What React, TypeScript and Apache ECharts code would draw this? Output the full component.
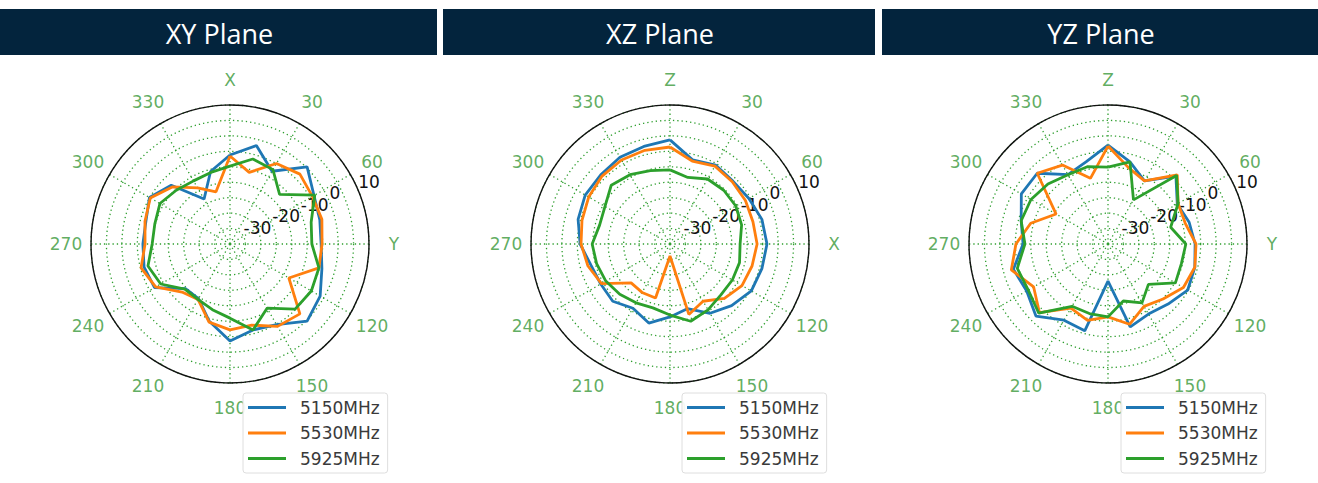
import React, { useEffect, useRef } from 'react';
import * as echarts from 'echarts';

// Angles (degrees, clockwise from the top axis)
const angles = [0, 15, 30, 45, 60, 75, 90, 105, 120, 135, 150, 165, 180, 195, 210, 225, 240, 255, 270, 285, 300, 315, 330, 345];

const seriesNames = ['5150MHz', '5530MHz', '5925MHz'];
const seriesColors = ['#1f77b4', '#ff7f0e', '#2ca02c'];

const planeTitles = ['XY Plane', 'XZ Plane', 'YZ Plane'];
// angular tick labels (0° and 90° carry the axis names)
const angleTickValues = [0, 30, 60, 90, 120, 150, 180, 210, 240, 270, 300, 330];
const angleTickLabelsXY = ['X', '30', '60', 'Y', '120', '150', '180', '210', '240', '270', '300', '330'];
const angleTickLabelsXZ = ['Z', '30', '60', 'X', '120', '150', '180', '210', '240', '270', '300', '330'];
const angleTickLabelsYZ = ['Z', '30', '60', 'Y', '120', '150', '180', '210', '240', '270', '300', '330'];
const angleTickLabels = [angleTickLabelsXY, angleTickLabelsXZ, angleTickLabelsYZ];

const radialTicks = [-30, -20, -10, 0, 10];
const radiusMin = -35;
const radiusMax = 10;

// XY plane (dB)
const xy5150 = [-6.2, -2.0, -7.8, 0.3, -3.6, -4.9, -5.5, -4.2, -1.3, 0.3, -4.9, -6.2, -3.6, -9.1, -14.6, -14.6, -6.8, -6.2, -6.8, -6.8, -4.9, -8.1, -18.2, -10.7];
const xy5530 = [-6.5, -11.0, -4.9, -3.0, -4.2, -4.2, -5.2, -5.2, -13.0, -3.0, -4.2, -7.8, -7.2, -8.8, -14.3, -13.0, -7.2, -5.2, -7.5, -6.5, -5.2, -8.8, -14.0, -17.5];
const xy5925 = [-9.8, -6.5, -7.2, -12.3, -3.3, -7.8, -8.5, -5.2, -4.6, -5.2, -11.0, -6.2, -11.0, -13.0, -14.3, -14.3, -9.1, -7.5, -9.8, -9.8, -8.8, -10.4, -11.4, -11.0];

// XZ plane (dB)
const xz5150 = [-1.3, -6.8, -5.5, -6.2, -5.5, -4.2, -3.6, -4.2, -4.6, -6.8, -9.1, -13.3, -11.4, -8.5, -11.0, -8.8, -9.1, -8.5, -5.9, -4.2, -3.3, -3.3, -2.6, -2.3];
const xz5530 = [-3.6, -7.2, -5.9, -6.5, -6.8, -7.2, -6.8, -7.5, -8.1, -10.1, -13.6, -11.4, -31.1, -16.9, -16.9, -17.2, -9.4, -7.5, -6.2, -5.5, -4.6, -3.9, -3.6, -3.6];
const xz5925 = [-11.0, -12.7, -10.7, -10.4, -10.4, -11.0, -12.3, -11.7, -11.7, -11.7, -10.4, -9.1, -12.0, -13.6, -13.0, -12.0, -11.0, -10.4, -9.8, -11.4, -10.7, -8.1, -9.1, -10.4];

// YZ plane (dB)
const yz5150 = [-3.0, -7.5, -11.4, -3.9, -9.1, -7.8, -6.8, -5.9, -5.2, -7.5, -8.8, -7.2, -23.0, -5.9, -6.5, -2.0, -4.6, -3.3, -7.5, -5.9, -2.6, -2.6, -9.1, -7.5];
const yz5530 = [-3.3, -9.4, -11.4, -3.3, -8.8, -9.1, -6.5, -5.9, -6.8, -9.8, -11.7, -8.1, -11.4, -9.4, -11.0, -3.6, -7.2, -2.6, -5.2, -9.1, -15.6, -2.6, -5.5, -13.0];
const yz5925 = [-10.1, -7.5, -18.5, -3.6, -8.8, -14.0, -9.8, -10.4, -9.8, -16.5, -13.0, -15.9, -11.4, -11.7, -11.7, -3.3, -5.2, -4.6, -8.1, -5.9, -6.2, -7.5, -9.1, -9.1];

const planeData = [
  [xy5150, xy5530, xy5925],
  [xz5150, xz5530, xz5925],
  [yz5150, yz5530, yz5925],
];

// layout
const centers = [[230, 244], [670, 244], [1108, 244]];
const polarRadius = 139;
const angleLabelRadius = 164;
const headers = [
  { x: 0, w: 437 },
  { x: 443, w: 432 },
  { x: 882, w: 436 },
];
const legendLefts = [243, 682, 1121];

const GRID_GREEN = '#2e9e2e';
const LABEL_GREEN = '#389838';
const FONT = 'DejaVu Sans';

function buildOption() {
  const polar: any[] = [];
  const angleAxis: any[] = [];
  const radiusAxis: any[] = [];
  const series: any[] = [];
  const legend: any[] = [];
  const graphic: any[] = [];

  // 0..2 : data polars (grid, outer circle)
  for (let p = 0; p < 3; p++) {
    polar.push({ center: centers[p], radius: polarRadius });
    angleAxis.push({
      polarIndex: p,
      type: 'value',
      min: 0,
      max: 360,
      interval: 30,
      startAngle: 90,
      clockwise: true,
      axisLine: { show: true, lineStyle: { color: '#111', width: 1.4 } },
      axisTick: { show: false },
      axisLabel: { show: false },
      splitLine: { show: true, lineStyle: { color: GRID_GREEN, width: 1.3, type: [1.3, 3] } },
    });
    radiusAxis.push({
      polarIndex: p,
      type: 'value',
      min: radiusMin,
      max: radiusMax,
      interval: 5,
      axisLine: { show: false },
      axisTick: { show: false },
      axisLabel: { show: false },
      splitLine: { show: true, lineStyle: { color: GRID_GREEN, width: 1.3, type: [1.3, 3] } },
    });
  }

  // 3..5 : radial tick label polars (labels along 22° above horizontal)
  for (let p = 0; p < 3; p++) {
    polar.push({ center: centers[p], radius: polarRadius });
    angleAxis.push({
      polarIndex: 3 + p,
      type: 'value',
      min: 0,
      max: 360,
      startAngle: 22,
      show: false,
    });
    radiusAxis.push({
      polarIndex: 3 + p,
      type: 'value',
      min: radiusMin,
      max: radiusMax,
      interval: 5,
      axisLine: { show: false },
      axisTick: { show: false },
      splitLine: { show: false },
      axisLabel: {
        show: true,
        margin: 2,
        align: 'left',
        verticalAlign: 'bottom',
        color: '#111',
        fontSize: 17,
        fontFamily: FONT,
        formatter: (v: number) => (radialTicks.indexOf(v) >= 0 ? String(v) : ''),
      },
    });
  }

  // 6..8 : angular tick label polars (labels centred on a circle outside the plot)
  for (let p = 0; p < 3; p++) {
    polar.push({ center: centers[p], radius: angleLabelRadius });
    angleAxis.push({
      polarIndex: 6 + p,
      type: 'value',
      min: 0,
      max: 360,
      startAngle: 90,
      clockwise: true,
      show: false,
    });
    radiusAxis.push({
      polarIndex: 6 + p,
      type: 'value',
      min: 0,
      max: 1,
      show: false,
    });
    series.push({
      type: 'scatter',
      coordinateSystem: 'polar',
      polarIndex: 6 + p,
      clip: false,
      silent: true,
      symbolSize: 1,
      itemStyle: { color: 'rgba(0,0,0,0)' },
      data: angleTickValues.map((a, i) => ({ name: angleTickLabels[p][i], value: [1, a] })),
      label: {
        show: true,
        position: 'inside',
        formatter: (d: any) => d.name,
        color: LABEL_GREEN,
        fontSize: 17,
        fontFamily: FONT,
      },
      z: 1,
    });
  }

  for (let p = 0; p < 3; p++) {
    for (let s = 0; s < 3; s++) {
      const vals = planeData[p][s];
      const data = angles.map((a, i) => [vals[i], a]);
      data.push([vals[0], 360]);
      series.push({
        name: seriesNames[s],
        type: 'line',
        coordinateSystem: 'polar',
        polarIndex: p,
        data,
        symbol: 'none',
        smooth: false,
        color: seriesColors[s],
        lineStyle: { color: seriesColors[s], width: 2.8 },
        z: 3 + s,
      });
    }
    legend.push({
      left: legendLefts[p],
      top: 393,
      orient: 'vertical',
      data: seriesNames,
      icon: 'rect',
      itemWidth: 38,
      itemHeight: 3,
      itemGap: 8.5,
      padding: [6, 8, 6, 5],
      backgroundColor: 'rgba(255,255,255,0.92)',
      borderColor: '#dedede',
      borderWidth: 1,
      borderRadius: 3,
      selectedMode: false,
      z: 10,
      textStyle: { fontFamily: FONT, fontSize: 17, color: '#3a3a3a', padding: [0, 0, 0, 9] },
    });
    graphic.push({
      type: 'rect',
      shape: { x: headers[p].x, y: 9, width: headers[p].w, height: 46 },
      style: { fill: '#03243d' },
      silent: true,
    });
    graphic.push({
      type: 'text',
      x: headers[p].x + headers[p].w / 2 + 1,
      y: 33,
      style: {
        text: planeTitles[p],
        fill: '#ffffff',
        font: '27px "Open Sans", "Noto Sans", sans-serif',
        align: 'center',
        verticalAlign: 'middle',
      },
      silent: true,
    });
  }

  return {
    animation: false,
    backgroundColor: '#ffffff',
    textStyle: { fontFamily: FONT },
    polar,
    angleAxis,
    radiusAxis,
    legend,
    graphic,
    series,
  };
}

export default function App() {
  const ref = useRef<HTMLDivElement | null>(null);
  useEffect(() => {
    if (!ref.current) return;
    const chart = echarts.init(ref.current, undefined, { renderer: 'svg' });
    chart.setOption(buildOption() as any);
    return () => chart.dispose();
  }, []);
  return (
    <div
      ref={ref}
      style={{ position: 'fixed', left: 0, top: 0, width: 1318, height: 483, background: '#fff' }}
    />
  );
}
